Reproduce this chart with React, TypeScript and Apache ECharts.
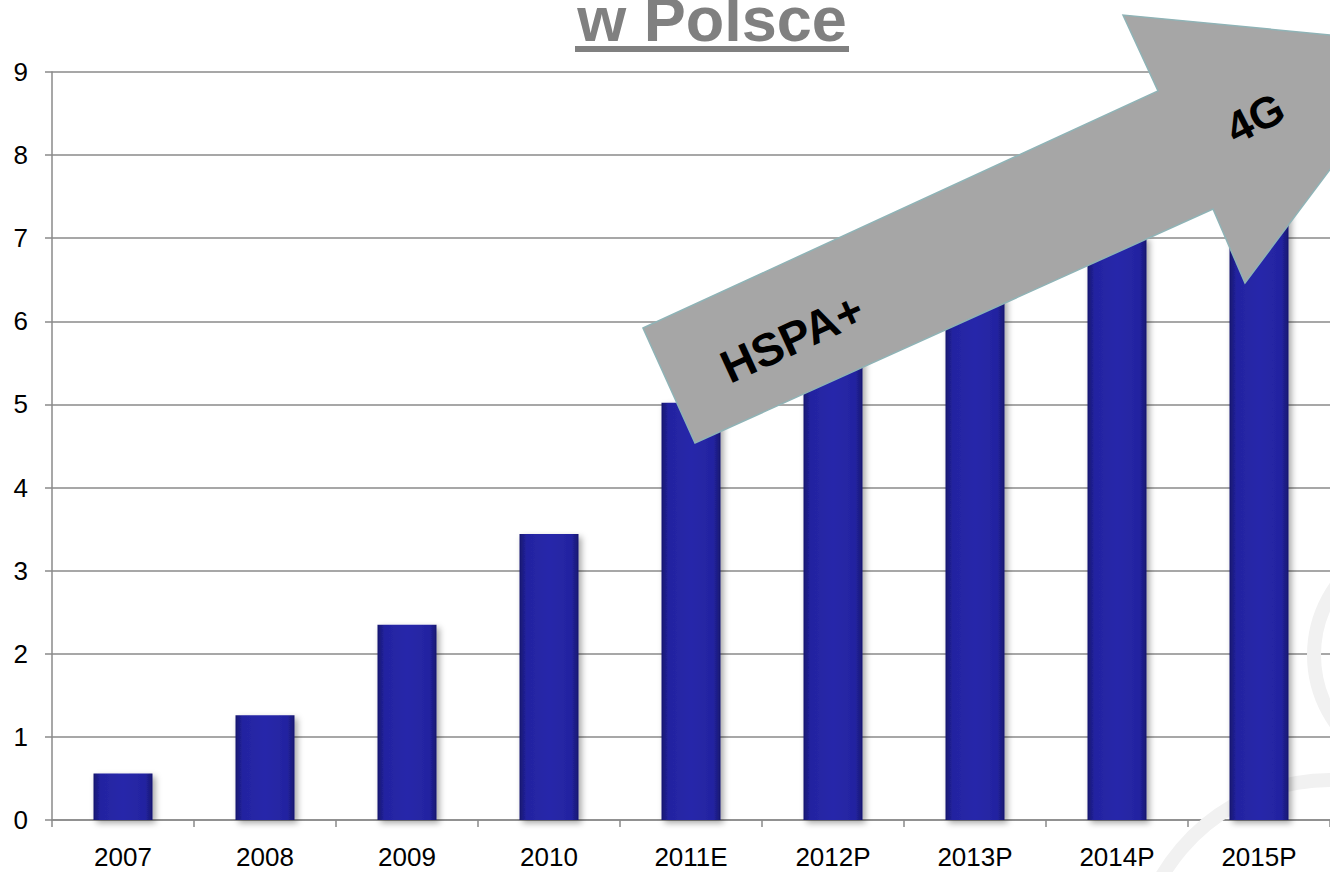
import React, { useEffect, useRef } from "react";
import * as echarts from "echarts";

const categories = ["2007", "2008", "2009", "2010", "2011E", "2012P", "2013P", "2014P", "2015P"];
const values = [0.56, 1.26, 2.35, 3.44, 5.02, 5.6, 6.3, 7.02, 7.7];
const yTicks = { min: 0, max: 9, interval: 1 };
const titleText = "w Polsce";
const arrowLabels = ["HSPA+", "4G"];

const FONT = "'Liberation Sans', Arial, Helvetica, sans-serif";

export default function App() {
  const ref = useRef<HTMLDivElement>(null);
  useEffect(() => {
    document.body.style.margin = "0";
    document.body.style.overflow = "hidden";
    const chart = echarts.init(ref.current!, null, { renderer: "svg" });
    const gray = "#8a8a8a";
    const barColor = new echarts.graphic.LinearGradient(0, 0, 1, 0, [
      { offset: 0, color: "#17176f" },
      { offset: 0.12, color: "#2323a0" },
      { offset: 0.5, color: "#2828aa" },
      { offset: 0.88, color: "#2323a0" },
      { offset: 1, color: "#17176f" },
    ]);
    chart.setOption({
      animation: false,
      backgroundColor: "#ffffff",
      grid: { left: 52, right: -13, top: 72, bottom: 52, containLabel: false },
      xAxis: {
        type: "category",
        data: categories,
        axisLine: { show: true, lineStyle: { color: gray, width: 1.5 } },
        axisTick: { show: true, length: 7, lineStyle: { color: gray, width: 1.5 } },
        axisLabel: { color: "#000", fontSize: 26, fontFamily: FONT, margin: 24 },
      },
      yAxis: {
        type: "value",
        min: yTicks.min,
        max: yTicks.max,
        interval: yTicks.interval,
        axisLine: { show: true, lineStyle: { color: gray, width: 1.5 } },
        axisTick: { show: true, length: 7, lineStyle: { color: gray, width: 1.5 } },
        axisLabel: { color: "#000", fontSize: 26, fontFamily: FONT, margin: 24 },
        splitLine: { show: true, lineStyle: { color: gray, width: 1.5 } },
      },
      series: [
        {
          type: "bar",
          data: values,
          barWidth: 59,
          z: 3,
          itemStyle: {
            color: barColor,
            shadowColor: "rgba(0,0,0,0.35)",
            shadowBlur: 6,
            shadowOffsetX: 3,
            shadowOffsetY: 3,
          },
        },
      ],
      graphic: [
        {
          type: "arc",
          z: 1,
          silent: true,
          shape: { cx: 1432, cy: 655, r: 118, startAngle: Math.PI * 0.7, endAngle: Math.PI * 1.3 },
          style: { stroke: "#f1f1f1", lineWidth: 14, fill: null },
        },
        {
          type: "arc",
          z: 1,
          silent: true,
          shape: { cx: 1330, cy: 975, r: 195, startAngle: Math.PI * 1.12, endAngle: Math.PI * 1.55 },
          style: { stroke: "#f1f1f1", lineWidth: 14, fill: null },
        },
        {
          type: "text",
          z: 100,
          x: 712,
          y: 19,
          style: {
            text: titleText,
            fontSize: 63,
            fontWeight: "bold",
            fontFamily: FONT,
            fill: "#808080",
            textAlign: "center",
            textVerticalAlign: "middle",
          },
        },
        {
          type: "rect",
          z: 100,
          shape: { x: 575, y: 46, width: 274, height: 6 },
          style: { fill: "#808080" },
        },
        {
          type: "polygon",
          z: 100,
          shape: {
            points: [
              [643, 328],
              [1158, 91],
              [1123, 15],
              [1424, 44],
              [1245, 283],
              [1213, 209],
              [695, 443],
            ],
          },
          style: { fill: "#a6a6a6", stroke: "#8fb3b6", lineWidth: 1.5 },
        },
        {
          type: "text",
          z: 101,
          x: 792,
          y: 338,
          rotation: 0.43,
          style: {
            text: arrowLabels[0],
            fontSize: 46,
            fontWeight: "bold",
            fontFamily: FONT,
            fill: "#000",
            textAlign: "center",
            textVerticalAlign: "middle",
          },
        },
        {
          type: "text",
          z: 101,
          x: 1255,
          y: 118,
          rotation: 0.47,
          style: {
            text: arrowLabels[1],
            fontSize: 44,
            fontWeight: "bold",
            fontFamily: FONT,
            fill: "#000",
            textAlign: "center",
            textVerticalAlign: "middle",
          },
        },
      ],
    });
    return () => chart.dispose();
  }, []);
  return <div ref={ref} style={{ width: 1330, height: 872 }} />;
}
